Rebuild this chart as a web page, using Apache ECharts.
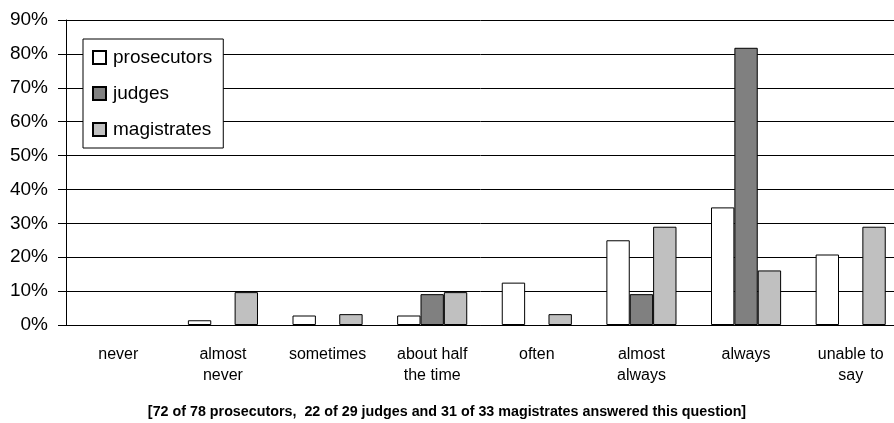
<!DOCTYPE html>
<html>
<head>
<meta charset="utf-8">
<script src="https://cdn.jsdelivr.net/npm/echarts@6/dist/echarts.min.js"></script>
<style>html,body{margin:0;padding:0;background:#fff;}#c{width:894px;height:423px;}</style>
</head>
<body>
<div id="c"></div>
<script>
const categories = ['never', 'almost\nnever', 'sometimes', 'about half\nthe time', 'often', 'almost\nalways', 'always', 'unable to\nsay'];
const prosecutors = [0, 1.4, 2.8, 2.8, 12.5, 25.0, 34.7, 20.8];
const judges = [0, 0, 0, 9.1, 0, 9.1, 81.8, 0];
const magistrates = [0, 9.7, 3.2, 9.7, 3.2, 29.0, 16.1, 29.0];
const footnote = '[72 of 78 prosecutors,  22 of 29 judges and 31 of 33 magistrates answered this question]';

const regular = '"Liberation Sans", Arial, sans-serif';
const chart = echarts.init(document.getElementById('c'), null, {renderer: 'canvas'});
function bar(name, data, color) {
  return {
    name: name, type: 'bar',
    data: data.map(v => v === 0 ? {value: v, itemStyle: {borderWidth: 0, opacity: 0}} : v),
    barGap: '0%', barCategoryGap: '33%',
    itemStyle: {color: color, borderColor: '#000', borderWidth: 1},
    emphasis: {disabled: true}
  };
}
chart.setOption({
  animation: false,
  backgroundColor: '#fff',
  grid: {left: 66, width: 837, top: 20, bottom: 98, outerBoundsMode: 'none', containLabel: false},
  title: {
    text: footnote, left: 'center', top: 400,
    textStyle: {fontFamily: regular, fontWeight: 'bold', fontSize: 14.3, color: '#000'}
  },
  legend: {
    orient: 'vertical', left: 83, top: 39,
    backgroundColor: '#fff', borderColor: '#000', borderWidth: 1,
    padding: [9, 11, 9, 9], itemWidth: 13, itemHeight: 13, itemGap: 17,
    icon: 'rect',
    textStyle: {fontFamily: regular, fontSize: 19, color: '#000', lineHeight: 19, padding: [0, 0, 0, 2]},
    data: ['prosecutors', 'judges', 'magistrates']
  },
  xAxis: {
    type: 'category', data: categories,
    axisLine: {lineStyle: {color: '#000', width: 1}},
    axisTick: {inside: true, length: 6, lineStyle: {color: '#000'}},
    axisLabel: {fontFamily: regular, fontSize: 16, color: '#000', lineHeight: 21, margin: 19, interval: 0}
  },
  yAxis: {
    type: 'value', min: 0, max: 90, interval: 10,
    axisLine: {show: true, lineStyle: {color: '#000', width: 1}},
    axisTick: {show: true, length: 8, lineStyle: {color: '#000'}},
    axisLabel: {formatter: '{value}%', fontFamily: regular, fontSize: 19, color: '#000', margin: 18},
    splitLine: {lineStyle: {color: '#000', width: 1}}
  },
  series: [
    bar('prosecutors', prosecutors, '#ffffff'),
    bar('judges', judges, '#808080'),
    bar('magistrates', magistrates, '#c0c0c0')
  ]
});
</script>
</body>
</html>
